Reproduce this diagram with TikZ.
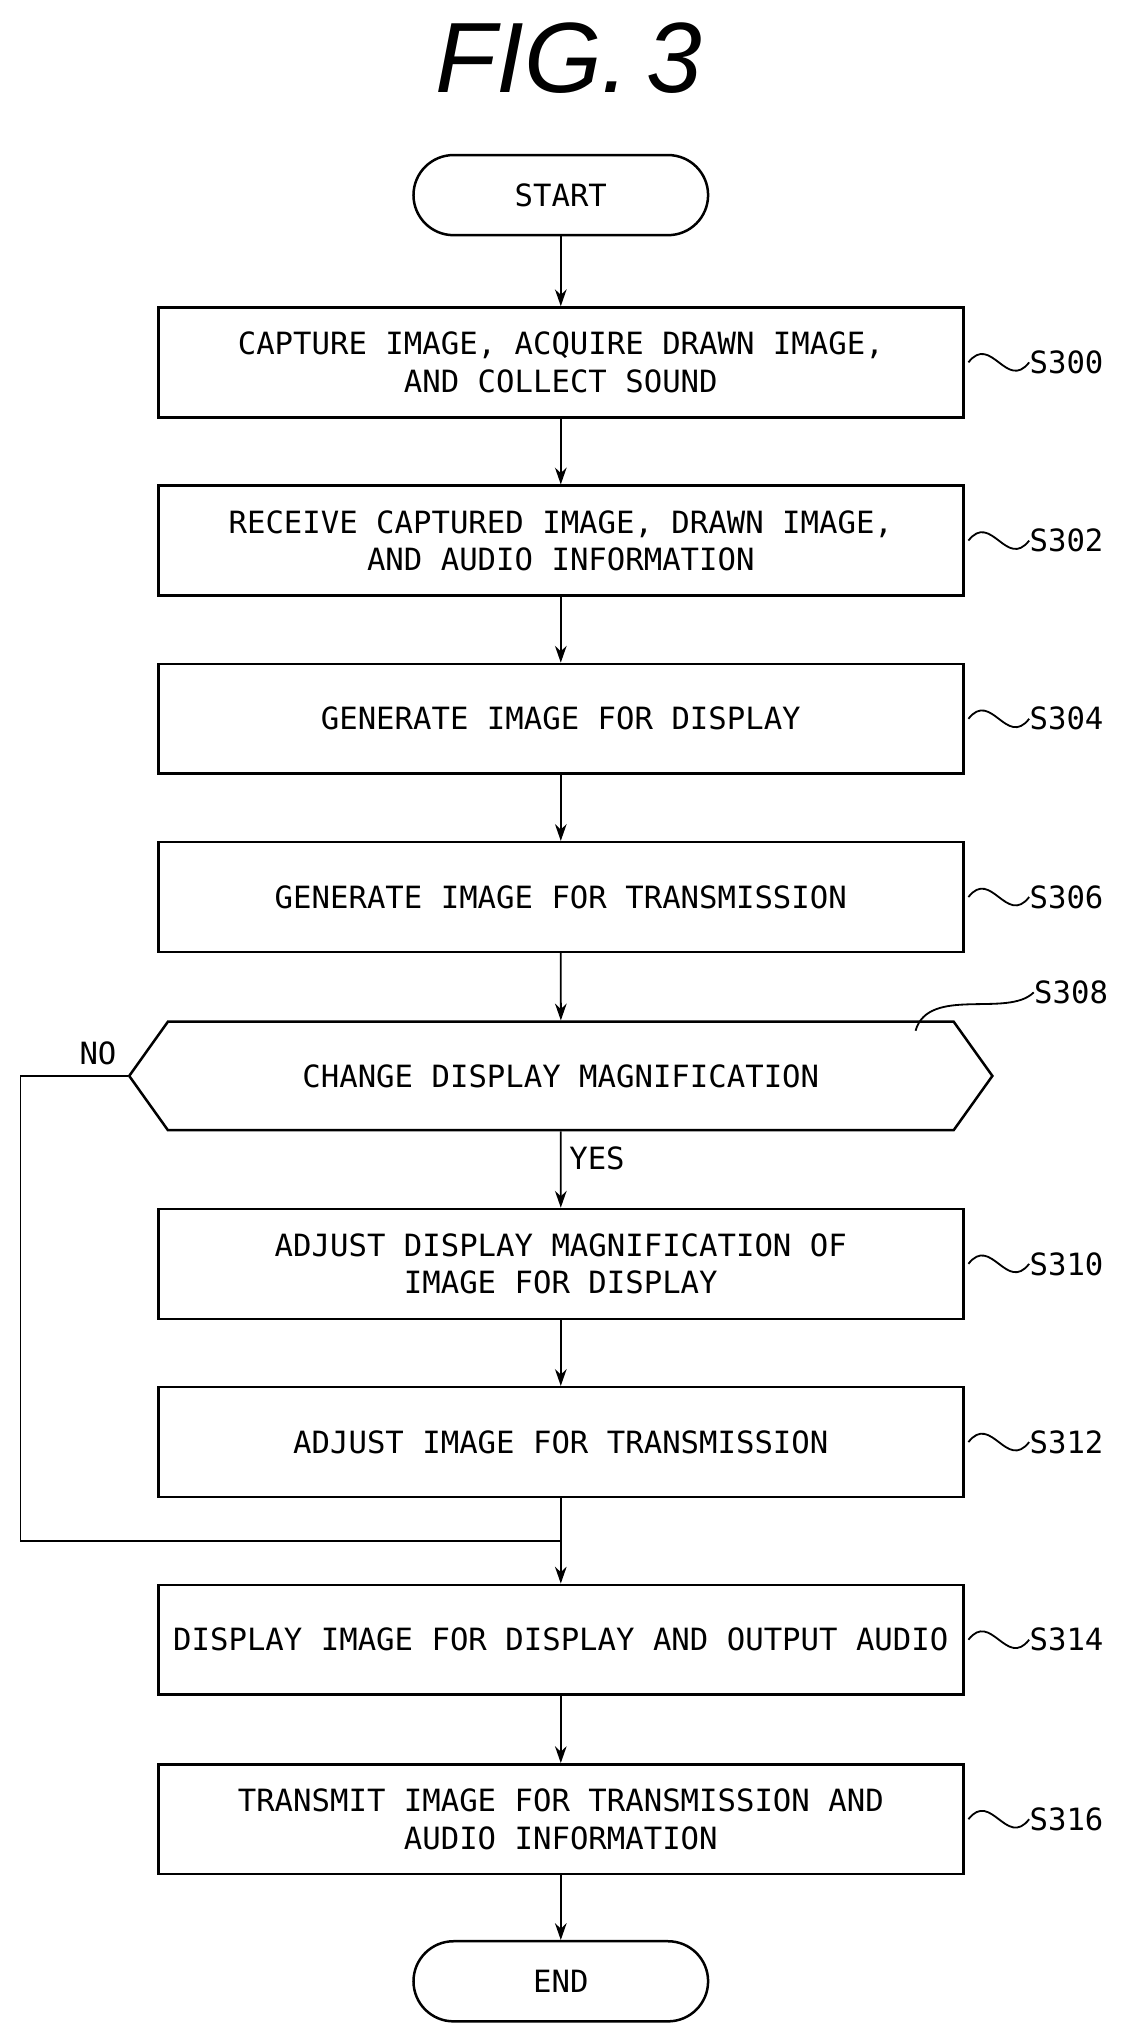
\documentclass[tikz,border=0pt]{standalone}
\usepackage{fontspec}
\setmainfont{DejaVu Sans Mono}
\newfontfamily\figfont{Liberation Sans}
\usetikzlibrary{positioning, arrows.meta, shapes, calc}

\begin{document}
\begin{tikzpicture}[
    node distance=1.02cm,
    txt/.style={font=\fontsize{13.5}{16.5}\selectfont, align=center},
    box/.style={rectangle, draw, line width=1.1pt, minimum width=12.46cm, minimum height=1.7cm, txt},
    term/.style={rectangle, draw, line width=1.1pt, rounded corners=0.62cm, minimum width=4.56cm, minimum height=1.24cm, txt},
    decision/.style={signal, signal to=west and east, signal pointer angle=109, draw, line width=1.1pt, minimum width=13.36cm, minimum height=1.68cm, txt},
    steplabel/.style={txt, inner sep=0pt, anchor=west},
    arrow/.style={-{Stealth[length=2.6mm, width=1.8mm]}, line width=0.8pt},
    wave/.style={line width=0.8pt}
]
\useasboundingbox (0,0) rectangle (17.6,-31.56);

\node[font=\figfont\itshape\fontsize{44}{44}\selectfont] (title) at (8.8,-0.9) {FIG.\,3};

\node[term] (start) at (8.68,-3.02) {START};
\node[box] (s300) [below=1.08cm of start] {CAPTURE IMAGE, ACQUIRE DRAWN IMAGE,\\AND COLLECT SOUND};
\node[box] (s302) [below=of s300] {RECEIVE CAPTURED IMAGE, DRAWN IMAGE,\\AND AUDIO INFORMATION};
\node[box] (s304) [below=of s302] {GENERATE IMAGE FOR DISPLAY};
\node[box] (s306) [below=of s304] {GENERATE IMAGE FOR TRANSMISSION};
\node[decision] (s308) [below=1.04cm of s306] {CHANGE DISPLAY MAGNIFICATION};
\node[box] (s310) [below=1.18cm of s308] {ADJUST DISPLAY MAGNIFICATION OF\\IMAGE FOR DISPLAY};
\node[box] (s312) [below=of s310] {ADJUST IMAGE FOR TRANSMISSION};
\node[box] (s314) [below=1.32cm of s312] {DISPLAY IMAGE FOR DISPLAY AND OUTPUT AUDIO};
\node[box] (s316) [below=1.04cm of s314] {TRANSMIT IMAGE FOR TRANSMISSION AND\\AUDIO INFORMATION};
\node[term] (end) [below=1.0cm of s316] {END};

% step numbers
\foreach \s in {300,302,304,306,310,312,314,316} {
    \node[steplabel] (l\s) [right=1.0cm of s\s] {S\s};
    \draw[wave] ([xshift=0.06cm]s\s.east) .. controls +(0.35,0.45) and +(-0.35,-0.45) .. (l\s.west);
}
\coordinate (c308) at ([xshift=-0.6cm, yshift=-0.16cm]s308.north east);
\node[steplabel] (l308) at (16.0,-15.36) {S308};
\draw[wave] (c308) .. controls +(0.2,0.7) and +(-0.4,-0.4) .. (l308.west);

\draw[arrow] (start) -- (s300);
\draw[arrow] (s300) -- (s302);
\draw[arrow] (s302) -- (s304);
\draw[arrow] (s304) -- (s306);
\draw[arrow] (s306) -- (s308);
\draw[arrow] (s308) -- node[right, txt, pos=0.35] {YES} (s310);
\draw[arrow] (s310) -- (s312);
\draw[arrow] (s312) -- (s314);
\draw[arrow] (s314) -- (s316);
\draw[arrow] (s316) -- (end);

% NO branch
\coordinate (join) at ($(s312.south)!0.5!(s314.north)$);
\node[txt, above left=0.05cm and 0.05cm of s308.west] (no) {NO};
\draw[line width=0.8pt] (s308.west) -- ++(-1.66,0) |- (join);

\end{tikzpicture}
\end{document}
